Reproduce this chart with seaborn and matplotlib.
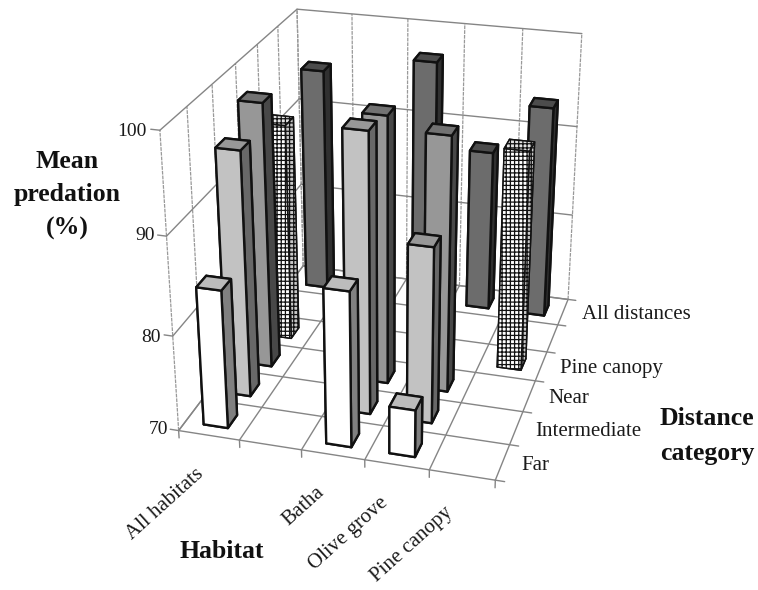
import pandas as pd
import seaborn as sns
import matplotlib
matplotlib.use('Agg')
import matplotlib.pyplot as plt

# Data
habitat_ticks = ['All habitats', '', 'Batha', 'Olive grove', 'Pine canopy']
distance_ticks = ['Far', 'Intermediate', 'Near', 'Pine canopy', '', 'All distances']
z_ticks = [70, 80, 90, 100]

far_habitats = ['All habitats', 'Batha', 'Olive grove']
far_values = [84.4, 86.0, 74.9]
intermediate_habitats = ['All habitats', 'Batha', 'Olive grove']
intermediate_values = [95.6, 98.8, 88.3]
near_habitats = ['All habitats', 'Batha', 'Olive grove']
near_values = [98.0, 98.0, 96.7]
pine_habitats = ['All habitats', 'Pine canopy']
pine_values = [93.5, 93.5]
all_habitats = ['All habitats', 'Batha', 'Olive grove', 'Pine canopy']
all_values = [95.0, 97.1, 87.9, 93.4]

# Front, top and side shade for each distance category
shades = {
    'Far': ['#ffffff', '#bcbcbc', '#808080'],
    'Intermediate': ['#c2c2c2', '#989898', '#686868'],
    'Near': ['#979797', '#727272', '#484848'],
    'Pine canopy': ['#ffffff', '#e4e4e4', '#c8c8c8'],
    'All distances': ['#6c6c6c', '#4c4c4c', '#303030'],
}

df = pd.concat([
    pd.DataFrame({'habitat': far_habitats, 'distance': 'Far', 'value': far_values}),
    pd.DataFrame({'habitat': intermediate_habitats, 'distance': 'Intermediate', 'value': intermediate_values}),
    pd.DataFrame({'habitat': near_habitats, 'distance': 'Near', 'value': near_values}),
    pd.DataFrame({'habitat': pine_habitats, 'distance': 'Pine canopy', 'value': pine_values}),
    pd.DataFrame({'habitat': all_habitats, 'distance': 'All distances', 'value': all_values}),
])
df['col'] = df['habitat'].map(habitat_ticks.index)
df['row'] = df['distance'].map(distance_ticks.index)

sns.set_theme(style='white', font='Liberation Serif')
plt.rcParams['hatch.linewidth'] = 0.9

WIDTH, HEIGHT = 758, 590
fig = plt.figure(figsize=(WIDTH / 100, HEIGHT / 100), dpi=100)
# Camera fitted to the corners of the reference box
ax = fig.add_axes([0.776 / WIDTH, 62.356 / HEIGHT, 1, 1], projection='3d', computed_zorder=False)
ax.view_init(elev=24.607, azim=-74.096, roll=0)
ax.set_proj_type('persp', focal_length=0.511)
ax.set_box_aspect((0.997, 1.201, 0.991), zoom=0.951)
ax.set_axis_off()

n_cols, n_rows = len(habitat_ticks), len(distance_ticks)
z_min, z_max = z_ticks[0], z_ticks[-1]


def line(xs, ys, zs, dashed=False):
    if dashed:
        ax.plot(xs, ys, zs, color='#999999', lw=0.9, ls=(0, (3, 0.8)), zorder=1, clip_on=False)
    else:
        ax.plot(xs, ys, zs, color='#858585', lw=1.0, zorder=1, clip_on=False)


# Floor
for c in range(n_cols + 1):
    line([c, c], [0, n_rows], [z_min, z_min])
    line([c, c], [0, 0], [z_min, z_min - 0.8])  # tick
for r in range(n_rows + 1):
    line([0, n_cols], [r, r], [z_min, z_min])
    line([n_cols, n_cols + 0.14], [r, r], [z_min, z_min])  # tick

# Back wall and left wall
for c in range(n_cols + 1):
    line([c, c], [n_rows, n_rows], [z_min, z_max], dashed=True)
for r in range(n_rows + 1):
    line([0, 0], [r, r], [z_min, z_max], dashed=True)
for z in z_ticks:
    line([0, n_cols], [n_rows, n_rows], [z, z])
    line([0, 0], [0, n_rows], [z, z])
    line([-0.14, 0], [0, 0], [z, z])  # tick

# Bars, back to front
BAR_W, BAR_D = 0.40, 0.40
order = df.sort_values(['row', 'col'], ascending=[False, True]).reset_index(drop=True)
for i, b in order.iterrows():
    front, top, side = shades[b['distance']]
    # order of faces: -Z, +Z, -Y, +Y, -X, +X
    poly = ax.bar3d(b['col'] + 0.505 - BAR_W / 2, b['row'] + 0.475 - BAR_D / 2, z_min,
                    BAR_W, BAR_D, b['value'] - z_min,
                    color=[side, top, front, side, side, side],
                    edgecolor='#111111', linewidth=1.7, shade=False, zorder=10 + i)
    if b['distance'] == 'Pine canopy':
        poly.set_hatch('++++')
        poly.set_linewidth(1.1)

ax.set_xlim(0, n_cols)
ax.set_ylim(0, n_rows)
ax.set_zlim(z_min, z_max)


def label(px, py, s, **kw):
    kw.setdefault('color', '#1a1a1a')
    fig.text(px / WIDTH, 1 - py / HEIGHT, s, **kw)


# Tick labels, placed in pixels of the picture
for z, px, py in zip(z_ticks, [168, 161, 155, 147], [430, 338, 236, 132]):
    label(px, py, str(z), ha='right', va='center', fontsize=14)

dist_pos = {'Far': (521, 470), 'Intermediate': (535, 436), 'Near': (548, 403),
            'Pine canopy': (560, 373), 'All distances': (582, 319)}
for name, (px, py) in dist_pos.items():
    label(px, py, name, ha='left', va='baseline', fontsize=15)

hab_pos = {'All habitats': (201, 472), 'Batha': (322, 490), 'Olive grove': (385, 500), 'Pine canopy': (450, 510)}
for name, (px, py) in hab_pos.items():
    label(px, py, name, ha='right', va='center', fontsize=15, rotation=42, rotation_mode='anchor')

# Axis titles
label(67, 195, 'Mean\npredation\n(%)', ha='center', va='center', fontsize=18.5, fontweight='bold',
      linespacing=1.55, color='#111111')
label(222, 552, 'Habitat', ha='center', va='center', fontsize=18.5, fontweight='bold', color='#111111')
label(707, 436, 'Distance\ncategory', ha='center', va='center', fontsize=18.5, fontweight='bold',
      linespacing=1.65, color='#111111')

fig.savefig('out.png', dpi=100)
